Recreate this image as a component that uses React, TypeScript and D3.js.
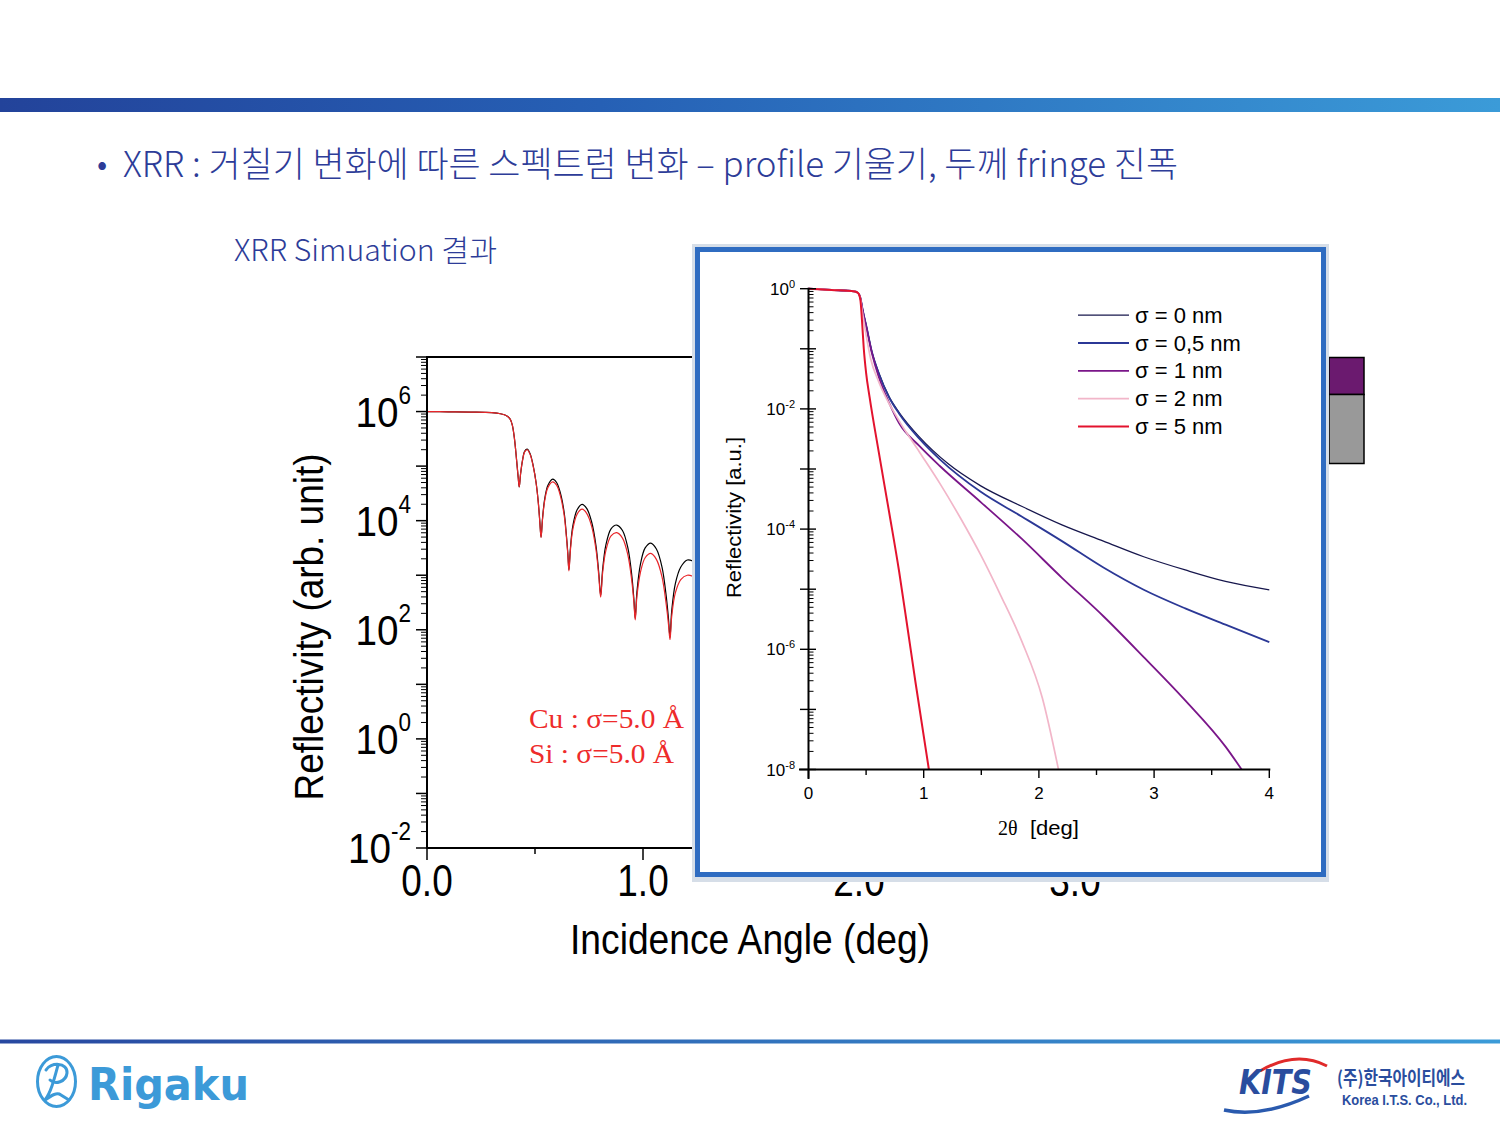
import React from "react";
import * as d3 from "d3";

// ---------- Left (background) chart: Cu/Si simulation ----------
const leftAngle = [0, 0.1, 0.2, 0.3, 0.34, 0.37, 0.385, 0.395, 0.405, 0.415,
  0.422, 0.427, 0.433, 0.442, 0.452, 0.464, 0.478, 0.492, 0.505, 0.515,
  0.522, 0.528, 0.535, 0.545, 0.56, 0.582, 0.6, 0.618, 0.635, 0.645,
  0.652, 0.657, 0.664, 0.675, 0.695, 0.718, 0.74, 0.762, 0.782, 0.795,
  0.804, 0.813, 0.828, 0.852, 0.878, 0.905, 0.93, 0.948, 0.958, 0.964,
  0.972, 0.988, 1.01, 1.036, 1.062, 1.088, 1.108, 1.118, 1.125, 1.133,
  1.15, 1.175, 1.205, 1.23];
// log10 of reflectivity (arb. unit)
const leftLogBlack = [6.0, 5.995, 5.99, 5.98, 5.96, 5.92, 5.86, 5.75, 5.5, 5.1,
  4.8, 4.62, 4.85, 5.1, 5.27, 5.31, 5.22, 5.0, 4.7, 4.35,
  4.0, 3.7, 4.05, 4.4, 4.65, 4.76, 4.7, 4.5, 4.15, 3.75,
  3.4, 3.1, 3.5, 3.9, 4.2, 4.3, 4.22, 3.98, 3.55, 3.05,
  2.63, 3.1, 3.55, 3.85, 3.92, 3.82, 3.5, 3.0, 2.55, 2.21,
  2.7, 3.2, 3.5, 3.59, 3.48, 3.15, 2.6, 2.2, 1.86, 2.35,
  2.85, 3.15, 3.28, 3.26];
const leftLogRed = [6.0, 5.995, 5.99, 5.98, 5.96, 5.92, 5.86, 5.75, 5.5, 5.1,
  4.8, 4.62, 4.85, 5.1, 5.26, 5.3, 5.21, 4.99, 4.69, 4.34,
  3.99, 3.69, 4.03, 4.37, 4.61, 4.71, 4.65, 4.45, 4.1, 3.72,
  3.38, 3.08, 3.46, 3.84, 4.12, 4.21, 4.13, 3.9, 3.48, 3.0,
  2.6, 3.04, 3.45, 3.72, 3.78, 3.68, 3.37, 2.9, 2.5, 2.18,
  2.62, 3.05, 3.32, 3.4, 3.29, 2.97, 2.45, 2.1, 1.82, 2.25,
  2.68, 2.92, 3.0, 2.98];

const leftYLabelExps = [-2, 0, 2, 4, 6];
const leftXTickValues = [0, 1, 2, 3];
const leftXTickLabels = ["0.0", "1.0", "2.0", "3.0"];

// ---------- Inset chart: roughness series (2θ deg, log10 reflectivity) ----------
const s0Angle = [0, 0.2, 0.4, 0.43, 0.45, 0.47, 0.503, 0.55, 0.61, 0.7, 0.787, 0.964, 1.21, 1.495, 1.85, 2.2, 2.56, 2.91, 3.27, 3.62, 4.0];
const s0Log = [0, -0.02, -0.045, -0.07, -0.15, -0.35, -0.63, -1.05, -1.4, -1.8, -2.06, -2.47, -2.91, -3.28, -3.62, -3.93, -4.2, -4.46, -4.68, -4.87, -5.01];

const s05Angle = [0, 0.2, 0.4, 0.43, 0.45, 0.47, 0.503, 0.55, 0.61, 0.7, 0.787, 0.964, 1.14, 1.495, 1.85, 2.2, 2.56, 2.91, 3.27, 3.62, 4.0];
const s05Log = [0, -0.02, -0.045, -0.07, -0.15, -0.35, -0.63, -1.05, -1.41, -1.81, -2.08, -2.5, -2.84, -3.38, -3.79, -4.2, -4.64, -5.01, -5.32, -5.59, -5.88];

const s1Angle = [0, 0.2, 0.4, 0.43, 0.45, 0.47, 0.503, 0.55, 0.61, 0.7, 0.787, 0.964, 1.14, 1.495, 1.85, 2.2, 2.56, 2.91, 3.27, 3.62, 3.76];
const s1Log = [0, -0.02, -0.045, -0.07, -0.15, -0.36, -0.65, -1.07, -1.47, -1.9, -2.24, -2.62, -2.95, -3.55, -4.16, -4.81, -5.45, -6.13, -6.85, -7.62, -8.0];

const s2Angle = [0, 0.2, 0.4, 0.43, 0.45, 0.47, 0.503, 0.54, 0.61, 0.787, 0.964, 1.14, 1.32, 1.495, 1.67, 1.85, 2.03, 2.17];
const s2Log = [0, -0.02, -0.045, -0.07, -0.16, -0.42, -0.8, -1.17, -1.55, -2.2, -2.72, -3.24, -3.82, -4.43, -5.11, -5.86, -6.81, -8.0];

const s5Angle = [0, 0.2, 0.4, 0.43, 0.45, 0.465, 0.48, 0.5, 0.53, 0.61, 0.7, 0.787, 0.86, 0.928, 1.045];
const s5Log = [0, -0.02, -0.045, -0.07, -0.18, -0.55, -1.0, -1.4, -1.8, -2.72, -3.72, -4.71, -5.65, -6.54, -8.0];

const legendLabels = ["σ = 0 nm", "σ = 0,5 nm", "σ = 1 nm", "σ = 2 nm", "σ = 5 nm"];
const seriesColors = ["#17174d", "#2b3896", "#7a1689", "#f2b6c9", "#e3132e"];
const seriesWidths = [1.3, 1.8, 1.8, 1.7, 2.0];
const insetYLabelExps = [0, -2, -4, -6, -8];
const insetXTickValues = [0, 1, 2, 3, 4];

const SANS = "'Liberation Sans', Arial, sans-serif";
const SERIF = "'Liberation Serif', 'Times New Roman', serif";
const KR = "'Noto Sans CJK KR', 'Noto Sans', sans-serif";

type Pt = [number, number];
const zipLog = (xs: number[], ls: number[]): Pt[] => xs.map((x, i) => [x, Math.pow(10, ls[i])]);

export default function App() {
  const lx = d3.scaleLinear().domain([0, 4]).range([427, 1291]);
  const ly = d3.scaleLog().domain([1e-2, 1e7]).range([848, 357]);
  const ix = d3.scaleLinear().domain([0, 4]).range([808.5, 1269.3]);
  const iy = d3.scaleLog().domain([1e-8, 1]).range([769.5, 288.7]);

  const leftLine = d3.line<Pt>().x(d => lx(d[0])).y(d => ly(d[1])).curve(d3.curveCatmullRom.alpha(0.5));
  const insetLine = d3.line<Pt>().x(d => ix(d[0])).y(d => iy(d[1])).curve(d3.curveMonotoneX);

  const blackPts = zipLog(leftAngle, leftLogBlack);
  const redPts = zipLog(leftAngle, leftLogRed);
  const insetSeries = [
    zipLog(s0Angle, s0Log),
    zipLog(s05Angle, s05Log),
    zipLog(s1Angle, s1Log),
    zipLog(s2Angle, s2Log),
    zipLog(s5Angle, s5Log),
  ];

  // ticks
  const leftMajor = d3.range(-2, 8).map(e => Math.pow(10, e));
  const leftMinor: number[] = [];
  d3.range(-2, 7).forEach(e => d3.range(2, 10).forEach(m => leftMinor.push(m * Math.pow(10, e))));
  const insetMajor = d3.range(-8, 1).map(e => Math.pow(10, e));
  const insetMinor: number[] = [];
  d3.range(-8, 0).forEach(e => d3.range(2, 10).forEach(m => insetMinor.push(m * Math.pow(10, e))));
  const leftXMajor = d3.range(0, 5);
  const leftXMinor = d3.range(0.5, 4, 1);
  const insetXMinor = d3.range(0.5, 4, 1);

  return (
    <svg width={1500} height={1125} style={{ position: "absolute", left: 0, top: 0, background: "#fff" }}
      xmlns="http://www.w3.org/2000/svg">
      <defs>
        <linearGradient id="topbar" x1="0" x2="1" y1="0" y2="0">
          <stop offset="0" stopColor="#23439a" />
          <stop offset="0.4" stopColor="#2660b5" />
          <stop offset="1" stopColor="#3b9bd8" />
        </linearGradient>
        <linearGradient id="botbar" x1="0" x2="1" y1="0" y2="0">
          <stop offset="0" stopColor="#2848a0" />
          <stop offset="1" stopColor="#3b9bd8" />
        </linearGradient>
        <clipPath id="leftclip">
          <rect x={427} y={357} width={864} height={491} />
        </clipPath>
        <clipPath id="insetclip">
          <rect x={806} y={284} width={470} height={487} />
        </clipPath>
      </defs>
      <rect x={0} y={0} width={1500} height={1125} fill="#fff" />

      {/* header bar */}
      <rect x={0} y={98} width={1500} height={14} fill="url(#topbar)" />
      {/* title */}
      <text x={97} y={175} fontFamily={KR} fontSize={30} fill="#2d3c98">•</text>
      <text x={123} y={177} fontFamily={KR} fontWeight={300} fontSize={35} fill="#2d3c98" textLength={1055} lengthAdjust="spacingAndGlyphs">
        XRR : 거칠기 변화에 따른 스펙트럼 변화 – profile 기울기, 두께 fringe 진폭
      </text>
      <text x={234} y={261} fontFamily={KR} fontWeight={300} fontSize={30} fill="#2d3c98" textLength={263} lengthAdjust="spacingAndGlyphs">
        XRR Simuation 결과
      </text>

      {/* ---------- Left chart ---------- */}
      <g>
        <g clipPath="url(#leftclip)">
          <path d={leftLine(blackPts) || ""} fill="none" stroke="#000" strokeWidth={1.2} />
          <path d={leftLine(redPts) || ""} fill="none" stroke="#e8262a" strokeWidth={1.2} />
        </g>
        {/* frame */}
        <line x1={427} x2={1291} y1={357} y2={357} stroke="#000" strokeWidth={2} />
        <line x1={1291} x2={1291} y1={357} y2={848} stroke="#000" strokeWidth={2} />
        <line x1={427} x2={427} y1={356} y2={849} stroke="#000" strokeWidth={2} />
        <line x1={426} x2={1292} y1={848} y2={848} stroke="#000" strokeWidth={2} />
        {leftMajor.map((v, i) => (
          <line key={"lym" + i} x1={416} x2={427} y1={ly(v)} y2={ly(v)} stroke="#000" strokeWidth={1.5} />
        ))}
        {leftMinor.map((v, i) => (
          <line key={"lyn" + i} x1={421} x2={427} y1={ly(v)} y2={ly(v)} stroke="#000" strokeWidth={1} />
        ))}
        {leftXMajor.map((v, i) => (
          <line key={"lxm" + i} x1={lx(v)} x2={lx(v)} y1={848} y2={860} stroke="#000" strokeWidth={1.5} />
        ))}
        {leftXMinor.map((v, i) => (
          <line key={"lxn" + i} x1={lx(v)} x2={lx(v)} y1={848} y2={854} stroke="#000" strokeWidth={1.5} />
        ))}
        {leftYLabelExps.map(e => (
          <g key={"lyl" + e} transform={`translate(411,${ly(Math.pow(10, e)) + 15}) scale(0.9,1)`}>
            <text x={0} y={0} textAnchor="end" fontFamily={SANS} fontSize={43} fill="#000">
              10<tspan dy={-23} fontSize={25}>{e < 0 ? "-" + Math.abs(e) : String(e)}</tspan>
            </text>
          </g>
        ))}
        {leftXTickValues.map((v, i) => (
          <g key={"lxl" + i} transform={`translate(${lx(v)},896) scale(0.84,1)`}>
            <text x={0} y={0} textAnchor="middle" fontFamily={SANS} fontSize={44} fill="#000">{leftXTickLabels[i]}</text>
          </g>
        ))}
        <text transform="translate(323,627) rotate(-90)" textAnchor="middle" fontFamily={SANS} fontSize={40}
          fill="#000" textLength={347} lengthAdjust="spacingAndGlyphs">Reflectivity (arb. unit)</text>
        <text x={750} y={954} textAnchor="middle" fontFamily={SANS} fontSize={42} fill="#000"
          textLength={360} lengthAdjust="spacingAndGlyphs">Incidence Angle (deg)</text>
        <text x={529} y={728} fontFamily={SERIF} fontSize={28} fill="#ee2b2b" textLength={155} lengthAdjust="spacingAndGlyphs">Cu : σ=5.0 Å</text>
        <text x={529} y={763} fontFamily={SERIF} fontSize={28} fill="#ee2b2b" textLength={145} lengthAdjust="spacingAndGlyphs">Si : σ=5.0 Å</text>
      </g>

      {/* side boxes */}
      <rect x={1329} y={357.5} width={35} height={37} fill="#6b1a6f" stroke="#000" strokeWidth={1.5} />
      <rect x={1329} y={394.5} width={35} height={69} fill="#999999" stroke="#000" strokeWidth={1.5} />

      {/* ---------- Inset ---------- */}
      <g>
        <rect x={692} y={244} width={637} height={638} fill="#d6dee8" />
        <rect x={695} y={247} width={631} height={630} fill="#2f6cc1" />
        <rect x={700} y={252} width={621} height={620} fill="#fff" />

        <g clipPath="url(#insetclip)">
          {insetSeries.map((pts, i) => (
            <path key={"is" + i} d={insetLine(pts) || ""} fill="none" stroke={seriesColors[i]} strokeWidth={seriesWidths[i]} />
          ))}
        </g>

        {/* axes */}
        <line x1={808.5} x2={808.5} y1={287.7} y2={779} stroke="#000" strokeWidth={2} />
        <line x1={799} x2={1270.3} y1={769.5} y2={769.5} stroke="#000" strokeWidth={2} />
        {insetMajor.map((v, i) => (
          <line key={"iym" + i} x1={800} x2={816} y1={iy(v)} y2={iy(v)} stroke="#000" strokeWidth={1.4} />
        ))}
        {insetMinor.map((v, i) => (
          <line key={"iyn" + i} x1={808.5} x2={813.5} y1={iy(v)} y2={iy(v)} stroke="#000" strokeWidth={1} />
        ))}
        {insetXTickValues.map((v, i) => (
          <line key={"ixm" + i} x1={ix(v)} x2={ix(v)} y1={769.5} y2={778} stroke="#000" strokeWidth={1.4} />
        ))}
        {insetXMinor.map((v, i) => (
          <line key={"ixn" + i} x1={ix(v)} x2={ix(v)} y1={769.5} y2={775} stroke="#000" strokeWidth={1.4} />
        ))}
        {insetYLabelExps.map(e => (
          <text key={"iyl" + e} x={795} y={iy(Math.pow(10, e)) + 6} textAnchor="end" fontFamily={SANS} fontSize={17} fill="#000">
            10<tspan dy={-7} fontSize={11}>{e < 0 ? "-" + Math.abs(e) : String(e)}</tspan>
          </text>
        ))}
        {insetXTickValues.map((v, i) => (
          <text key={"ixl" + i} x={ix(v)} y={799} textAnchor="middle" fontFamily={SANS} fontSize={17} fill="#000">{String(v)}</text>
        ))}
        <text transform="translate(741,517.5) rotate(-90)" textAnchor="middle" fontFamily={SANS} fontSize={21}
          fill="#000" textLength={161} lengthAdjust="spacingAndGlyphs">Reflectivity [a.u.]</text>
        <text x={998} y={835} fontFamily={SERIF} fontSize={20} fill="#000">2θ</text>
        <text x={1030} y={835} fontFamily={SANS} fontSize={21} fill="#000" textLength={49} lengthAdjust="spacingAndGlyphs">[deg]</text>

        {/* legend */}
        {legendLabels.map((lab, i) => {
          const y = 315.2 + i * 27.8;
          return (
            <g key={"lg" + i}>
              <line x1={1078} x2={1129} y1={y} y2={y} stroke={seriesColors[i]} strokeWidth={seriesWidths[i]} />
              <text x={1135} y={y + 7.5} fontFamily={SANS} fontSize={22} fill="#000">{lab}</text>
            </g>
          );
        })}
      </g>

      {/* footer */}
      <rect x={0} y={1039.5} width={1500} height={4} fill="url(#botbar)" />
      {/* Rigaku logo */}
      <ellipse cx={56.5} cy={1081.5} rx={19} ry={25} fill="none" stroke="#3c9ad8" strokeWidth={3} />
      <path d="M46,1070 C50,1062 68,1062 67,1073 C66,1082 55,1085 50,1080 M58,1065 C54,1080 51,1092 45,1100 C52,1095 57,1092 61,1095 L69,1100"
        fill="none" stroke="#3c9ad8" strokeWidth={3} strokeLinecap="round" />
      <text x={88} y={1100} fontFamily="'DejaVu Sans', sans-serif" fontWeight={900} fontSize={44} fill="#3c9ad8"
        textLength={161} lengthAdjust="spacingAndGlyphs">Rigaku</text>

      {/* KITS logo */}
      <path d="M1260,1071 Q1296,1050 1327,1066" fill="none" stroke="#e02a2a" strokeWidth={3} />
      <text x={1239} y={1094} fontFamily="'DejaVu Sans', sans-serif" fontWeight={700} fontStyle="italic" fontSize={34}
        fill="#2a4d9e" textLength={73} lengthAdjust="spacingAndGlyphs">KITS</text>
      <path d="M1224,1110 Q1262,1118 1309,1096" fill="none" stroke="#2a5aae" strokeWidth={3.5} />
      <text x={1337} y={1085} fontFamily={KR} fontWeight={700} fontSize={19} fill="#2a4d9e"
        textLength={128} lengthAdjust="spacingAndGlyphs">(주)한국아이티에스</text>
      <text x={1342} y={1105} fontFamily={SANS} fontWeight={700} fontSize={15} fill="#2a4d9e"
        textLength={125} lengthAdjust="spacingAndGlyphs">Korea I.T.S. Co., Ltd.</text>
    </svg>
  );
}
